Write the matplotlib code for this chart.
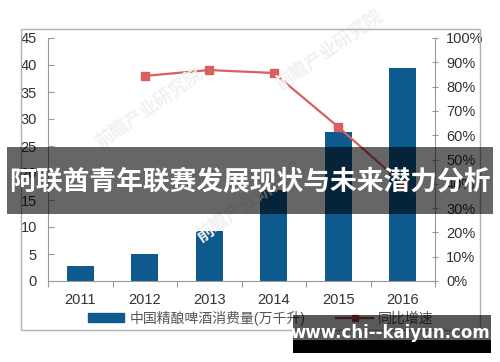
import matplotlib
matplotlib.use("Agg")
import matplotlib.pyplot as plt
from matplotlib.patches import Rectangle
from matplotlib.lines import Line2D
import numpy as np

plt.rcParams['font.family'] = ['Liberation Sans', 'Noto Sans CJK SC', 'DejaVu Sans']

years = ["2011", "2012", "2013", "2014", "2015", "2016"]
consumption = [2.8, 5.0, 9.2, 16.9, 27.6, 39.4]        # 万千升
growth_years = ["2012", "2013", "2014", "2015", "2016"]
growth = [84.4, 86.8, 85.6, 63.4, 40.0]                 # %
bar_label = "中国精酿啤酒消费量(万千升)"
line_label = "同比增速"
title = "阿联酋青年联赛发展现状与未来潜力分析"
site = "www.chi--kaiyun.com"
watermark = "前瞻产业研究院"

bar_color = "#0e5a8f"
line_color = "#d9605f"
txt_color = "#333333"

fig = plt.figure(figsize=(5, 3.62), dpi=100)
fig.patch.set_facecolor("white")

# outer frame of the original picture
fig.add_artist(Rectangle((21 / 500, 1 - 330 / 362), (480 - 21) / 500, (330 - 29) / 362,
                         transform=fig.transFigure, fill=False, edgecolor="#b0b0b0", lw=1))

# faint watermarks inside the plot area
for (wx, wy) in [(0.30, 0.70), (0.66, 0.86), (0.50, 0.44)]:
    fig.text(wx, wy, watermark, rotation=35, fontsize=13, color="#f1f1f1",
             ha="center", va="center", zorder=0, fontweight="bold")

ax = fig.add_axes([48 / 500, 1 - 281 / 362, (435 - 48) / 500, (281 - 38) / 362])
ax.patch.set_alpha(0)
x = np.arange(len(years))
ax.bar(x, consumption, width=0.42, color=bar_color, zorder=2)
ax.set_xlim(-0.5, len(years) - 0.5)
ax.set_ylim(0, 45)
ax.set_yticks(np.arange(0, 46, 5))
ax.set_xticks(np.arange(-0.5, len(years), 1))
ax.set_xticklabels([])
ax.set_xticks(x, minor=True)
ax.set_xticklabels(years, minor=True)
ax.tick_params(axis="x", which="minor", length=0, pad=9, labelsize=10.5, labelcolor=txt_color)
ax.tick_params(axis="x", which="major", length=4, direction="out", color="#999999")
ax.tick_params(axis="y", length=4, direction="in", color="#999999", labelsize=10.5,
               labelcolor=txt_color, pad=8)
ax.spines["top"].set_visible(False)
ax.spines["right"].set_visible(False)
for s in ["left", "bottom"]:
    ax.spines[s].set_color("#999999")

ax2 = ax.twinx()
gx = [years.index(y) for y in growth_years]
ax2.plot(gx, growth, color=line_color, lw=1.6, marker="s", markersize=6, zorder=3)
ax2.set_ylim(0, 100)
ax2.set_yticks(np.arange(0, 101, 10))
ax2.set_yticklabels([f"{v}%" for v in range(0, 101, 10)])
ax2.tick_params(axis="y", length=4, direction="inout", color="#999999", labelsize=10.5,
                labelcolor=txt_color, pad=6)
for s in ["top", "left", "bottom"]:
    ax2.spines[s].set_visible(False)
ax2.spines["right"].set_color("#999999")

handles = [Rectangle((0, 0), 1, 1, color=bar_color),
           Line2D([], [], color="#b04848", lw=1.6, marker="s", markersize=5)]
fig.legend(handles, [bar_label, line_label], loc="center", bbox_to_anchor=(261 / 500, 1 - 318 / 362),
           ncol=2, frameon=False, fontsize=10, handlelength=2.6, handleheight=0.6,
           columnspacing=2.2, handletextpad=0.4, labelcolor="#555555")

# dark banner with the title
fig.add_artist(Rectangle((7 / 500, 1 - 214 / 362), (493 - 7) / 500, (214 - 147) / 362,
                         transform=fig.transFigure, color="black", alpha=0.6, lw=0, zorder=10))
fig.text(250 / 500, 1 - 181 / 362, title, color="white", fontsize=19.3, fontweight="bold",
         ha="center", va="center", zorder=11, family=["Noto Sans CJK SC", "DejaVu Sans"])

# site stamp at the bottom right
fig.add_artist(Rectangle((293 / 500, 1 - 340 / 362), (491 - 293) / 500, (340 - 315) / 362,
                         transform=fig.transFigure, color="black", alpha=0.65, lw=0, zorder=10))
fig.add_artist(Rectangle((293 / 500, 1 - 353 / 362), (491 - 293) / 500, (353 - 340) / 362,
                         transform=fig.transFigure, color="black", lw=0, zorder=10))
fig.text(390 / 500, 1 - 333 / 362, site, color="white", fontsize=12, fontweight="bold",
         ha="center", va="center", zorder=11, family=["DejaVu Sans"])

fig.savefig("out.png", dpi=100)
